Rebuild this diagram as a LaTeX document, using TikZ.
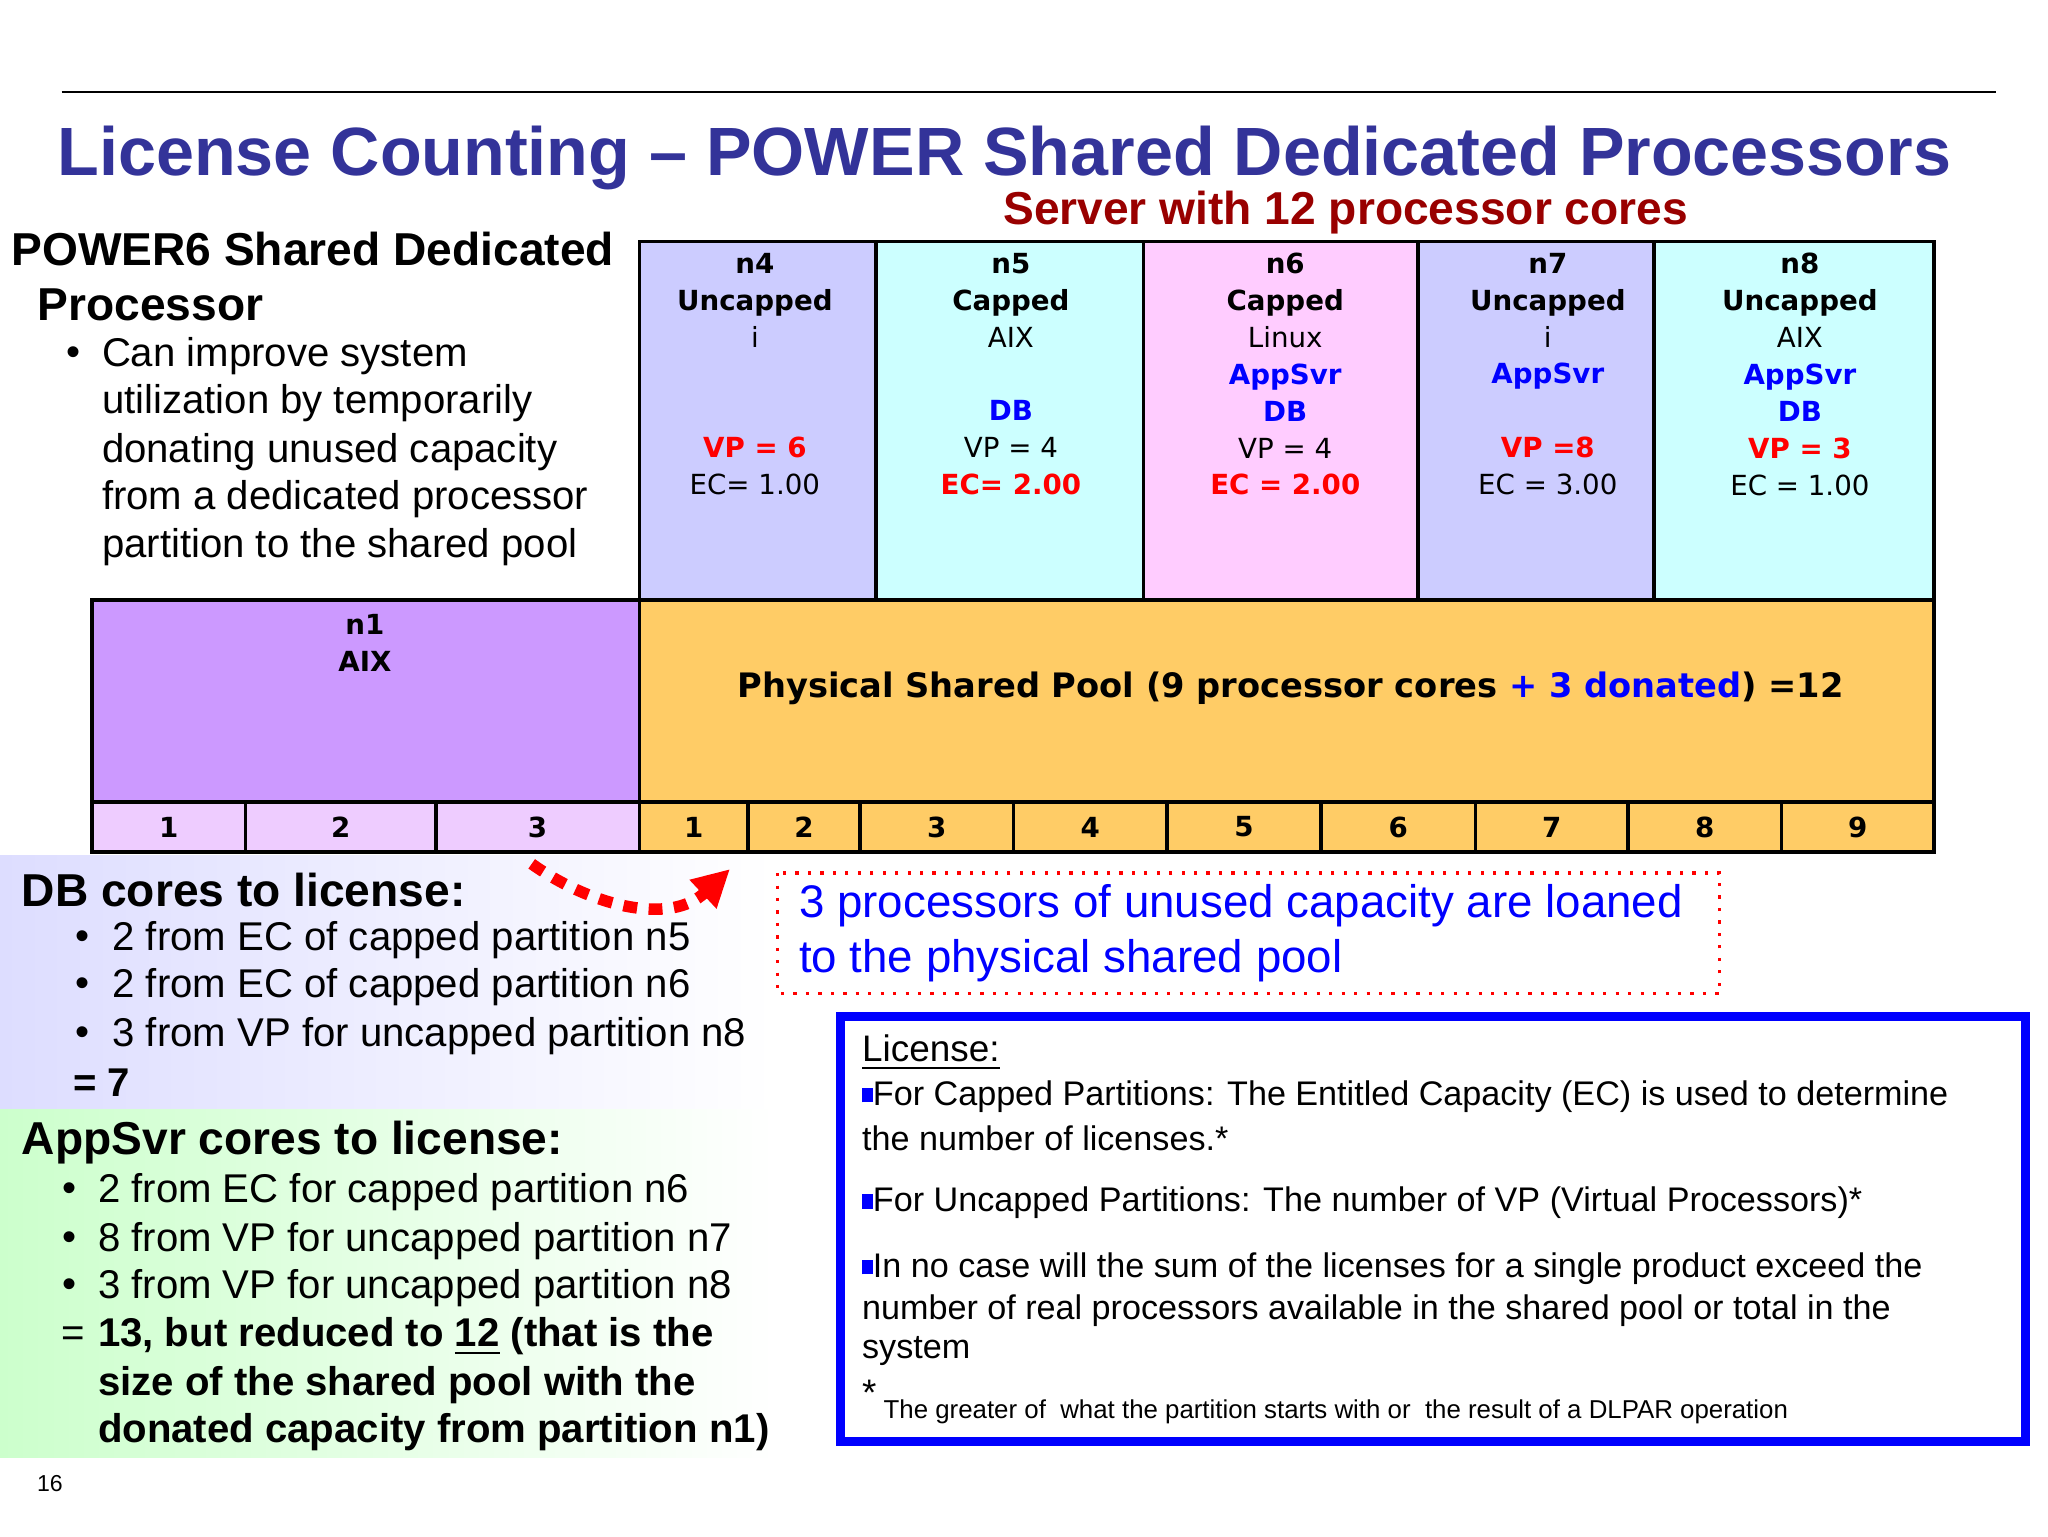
\documentclass[tikz,border=0pt]{standalone}
\usepackage{fontspec}
\setmainfont{Liberation Sans}
\newfontfamily\vf{DejaVu Sans}
\usetikzlibrary{arrows.meta}
\definecolor{ttl}{HTML}{333399}
\definecolor{srv}{HTML}{990000}
\definecolor{lav}{HTML}{CCCCFF}
\definecolor{cyn}{HTML}{CCFFFF}
\definecolor{pnk}{HTML}{FFCCFF}
\definecolor{pur}{HTML}{CC99FF}
\definecolor{org}{HTML}{FFCC66}
\definecolor{lpk}{HTML}{EECCFF}
\definecolor{bl}{HTML}{0000FF}
\definecolor{rd}{HTML}{FF0000}
\definecolor{dbbg}{HTML}{DDDDFF}
\definecolor{apbg}{HTML}{CCFFCC}
\newcommand{\sq}{\textcolor{bl}{\rule[0.15ex]{0.6ex}{0.8ex}}}
\tikzset{
 part/.style={draw=black,line width=0.8pt},
 ptxt/.style={anchor=north,align=center,font=\vf\fontsize{6}{8}\selectfont},
 cell/.style={font=\vf\bfseries\fontsize{6}{8}\selectfont},
 ltxt/.style={anchor=west,font=\fontsize{8.7}{11}\selectfont},
 btxt/.style={anchor=west,font=\fontsize{7.4}{9}\selectfont},
}
\begin{document}
\begin{tikzpicture}[x=0.1mm,y=-0.1mm,inner sep=0pt]
\useasboundingbox[fill=white] (0,0) rectangle (1560,1170);
\draw[line width=0.6pt] (47,70) -- (1520,70);
\node[font=\bfseries\fontsize{14.8}{17}\selectfont,text=ttl] (title) at (765,120) {License Counting -- POWER Shared Dedicated Processors};
\node[font=\bfseries\fontsize{10}{12}\selectfont,text=srv] (srv) at (1025,162) {Server with 12 processor cores};
% left heading
\node[anchor=west,font=\bfseries\fontsize{10}{12}\selectfont] (h1) at (8,190) {POWER6 Shared Dedicated};
\node[anchor=west,font=\bfseries\fontsize{10}{12}\selectfont] (h2) at (28,232) {Processor};
\node[ltxt] (b0) at (50,271) {•};
\node[ltxt] (l1) at (77,271) {Can improve system};
\node[ltxt] (l2) at (77,307) {utilization by temporarily};
\node[ltxt] (l3) at (77,344) {donating unused capacity};
\node[ltxt] (l4) at (77,380) {from a dedicated processor};
\node[ltxt] (l5) at (77,417) {partition to the shared pool};
% partitions
\fill[lav] (487,184) rectangle (667,457);
\fill[cyn] (667,184) rectangle (871,457);
\fill[pnk] (871,184) rectangle (1080,457);
\fill[lav] (1080,184) rectangle (1260,457);
\fill[cyn] (1260,184) rectangle (1473,457);
\draw[part] (487,184) rectangle (1473,457);
\foreach \x in {667,871,1080,1260} \draw[part] (\x,184) -- (\x,457);
\node[ptxt] (n4) at (575,192) {\textbf{n4}\\ \textbf{Uncapped}\\ i\\ ~\\ ~\\ \textcolor{rd}{\textbf{VP = 6}}\\ EC= 1.00};
\node[ptxt] (n5) at (770,192) {\textbf{n5}\\ \textbf{Capped}\\ AIX\\ ~\\ \textcolor{bl}{\textbf{DB}}\\ VP = 4\\ \textcolor{rd}{\textbf{EC= 2.00}}};
\node[ptxt] (n6) at (979,192) {\textbf{n6}\\ \textbf{Capped}\\ Linux\\ \textcolor{bl}{\textbf{AppSvr}}\\ \textcolor{bl}{\textbf{DB}}\\ VP = 4\\ \textcolor{rd}{\textbf{EC = 2.00}}};
\node[ptxt] (n7) at (1179,192) {\textbf{n7}\\ \textbf{Uncapped}\\ i\\ \textcolor{bl}{\textbf{AppSvr}}\\ ~\\ \textcolor{rd}{\textbf{VP =8}}\\ EC = 3.00};
\node[ptxt] (n8) at (1371,192) {\textbf{n8}\\ \textbf{Uncapped}\\ AIX\\ \textcolor{bl}{\textbf{AppSvr}}\\ \textcolor{bl}{\textbf{DB}}\\ \textcolor{rd}{\textbf{VP = 3}}\\ EC = 1.00};
% n1 and pool
\fill[pur] (70,457) rectangle (487,611);
\draw[part] (70,457) rectangle (487,611);
\node[ptxt,font=\vf\bfseries\fontsize{6}{8}\selectfont] (n1) at (278,467) {n1\\ AIX};
\fill[org] (487,457) rectangle (1473,611);
\draw[part] (487,457) rectangle (1473,611);
\node[font=\vf\bfseries\fontsize{7.3}{10}\selectfont] (pool) at (983,524) {Physical Shared Pool (9 processor cores \textcolor{bl}{+ 3 donated}) =12};
% cells
\fill[lpk] (70,611) rectangle (487,649);
\fill[org] (487,611) rectangle (1473,649);
\draw[part] (70,611) rectangle (1473,649);
\foreach \x in {187,332,487,570,655,772,889,1006,1124,1240,1357} \draw[part] (\x,611) -- (\x,649);
\foreach \a/\b/\t in {70/187/1,187/332/2,332/487/3,487/570/1,570/655/2,655/772/3,772/889/4,889/1006/5,1006/1124/6,1124/1240/7,1240/1357/8,1357/1473/9}
  \node[cell] at ({(\a+\b)/2},630) {\t};
% DB section
\shade[left color=dbbg,right color=white] (0,652) rectangle (590,845);
\node[anchor=west,font=\bfseries\fontsize{10}{12}\selectfont] (dbh) at (16,678) {DB cores to license:};
\foreach \y/\t in {716/2 from EC of capped partition n5,752/2 from EC of capped partition n6,789/3 from VP for uncapped partition n8}{
 \node[ltxt] at (57,\y) {•}; \node[ltxt] at (85,\y) {\t};}
\node[ltxt,font=\bfseries\fontsize{8.7}{11}\selectfont] (db7) at (55,825) {= 7};
% AppSvr section
\shade[left color=apbg,right color=white] (0,845) rectangle (590,1110);
\node[anchor=west,font=\bfseries\fontsize{10}{12}\selectfont] (aph) at (16,870) {AppSvr cores to license:};
\foreach \y/\t in {908/2 from EC for capped partition n6,945/8 from VP for uncapped partition n7,981/3 from VP for uncapped partition n8}{
 \node[ltxt] at (47,\y) {•}; \node[ltxt] at (74,\y) {\t};}
\node[ltxt] (eq) at (46,1018) {=};
\node[ltxt,font=\bfseries\fontsize{8.7}{11}\selectfont] (a1) at (74,1018) {13, but reduced to \underline{12} (that is the};
\node[ltxt,font=\bfseries\fontsize{8.7}{11}\selectfont] (a2) at (74,1055) {size of the shared pool with the};
\node[ltxt,font=\bfseries\fontsize{8.7}{11}\selectfont] (a3) at (74,1091) {donated capacity from partition n1)};
% arrow
\coordinate (as) at (405,658);
\coordinate (ae) at (556,662);
\draw[rd,line width=2.5pt,dash pattern=on 3pt off 2.5pt,-{Triangle[length=8pt,width=8pt]}] (as) .. controls (450,690) and (510,705) .. (ae);
% dotted box
\draw[rd,line width=0.7pt,dotted] (592,665) rectangle (1310,757);
\node[anchor=west,text=bl,font=\fontsize{9.9}{12}\selectfont] (d1) at (608,690) {3 processors of unused capacity are loaned};
\node[anchor=west,text=bl,font=\fontsize{9.9}{12}\selectfont] (d2) at (608,732) {to the physical shared pool};
% license box
\draw[bl,line width=2pt] (640,774) rectangle (1543,1098);
\node[btxt,font=\fontsize{8}{10}\selectfont] (lic) at (656,802) {\underline{License:}};
\node[btxt] at (656,835) {\sq For Capped Partitions: The Entitled Capacity (EC) is used to determine};
\node[btxt] at (656,867) {the number of licenses.*};
\node[btxt] at (656,916) {\sq For Uncapped Partitions: The number of VP (Virtual Processors)*};
\node[btxt] at (656,966) {\sq In no case will the sum of the licenses for a single product exceed the};
\node[btxt] at (656,998) {number of real processors available in the shared pool or total in the};
\node[btxt] at (656,1029) {system};
\node[anchor=west,font=\fontsize{5.6}{7}\selectfont] at (656,1068) {\raisebox{1ex}{\fontsize{8}{8}\selectfont *} The greater of\ \ what the partition starts with or\ \ the result of a DLPAR operation};
\node[font=\fontsize{5}{6}\selectfont] (pg) at (38,1130) {16};
\end{tikzpicture}
\end{document}
